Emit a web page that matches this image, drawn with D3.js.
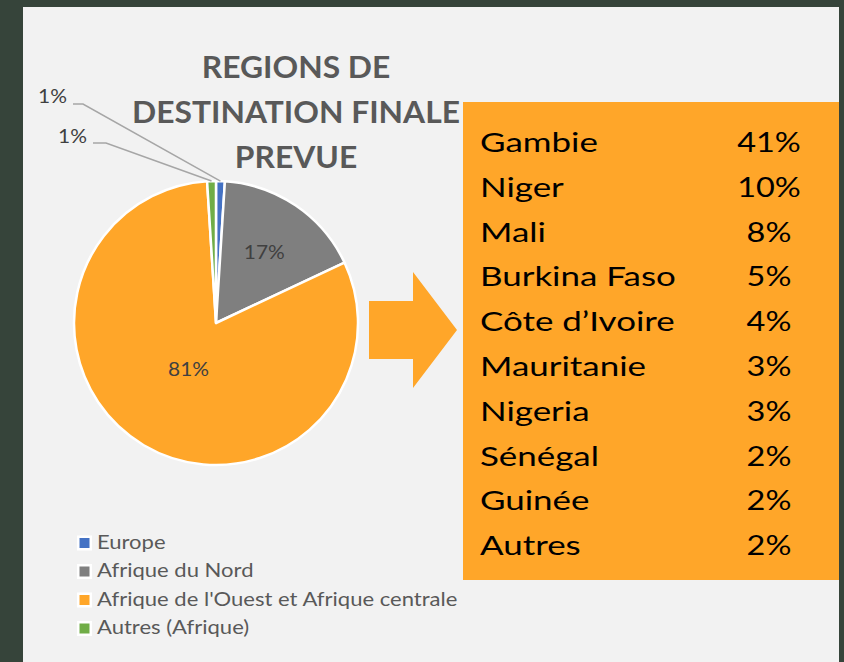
<!DOCTYPE html>
<html>
<head>
<meta charset="utf-8">
<script src="https://cdn.jsdelivr.net/npm/d3@7"></script>
<style>
  html, body { margin: 0; padding: 0; background: #36443a; }
  svg { display: block; }
</style>
</head>
<body>
<div class="chart"></div>
<script>
// data
var regions = ["Europe", "Afrique du Nord", "Afrique de l'Ouest et Afrique centrale", "Autres (Afrique)"];
var regionShares = [1, 17, 81, 1];
var regionColors = ["#4472c4", "#7f7f7f", "#ffa629", "#70ad47"];

var countries = ["Gambie", "Niger", "Mali", "Burkina Faso", "Côte d’Ivoire", "Mauritanie", "Nigeria", "Sénégal", "Guinée", "Autres"];
var countryShares = [41, 10, 8, 5, 4, 3, 3, 2, 2, 2];

var titleLines = ["REGIONS DE", "DESTINATION FINALE", "PREVUE"];

var W = 844, H = 662;
var font = "Lato, 'Open Sans', sans-serif";

// the reference text is a bit wider than Lato, so stretch it horizontally
function place(x, y, sx){
    return "translate(" + x + "," + y + ") scale(" + sx + ",1)";
}

var svg = d3.select(".chart").append("svg")
    .attr("width", W)
    .attr("height", H);

// background: dark frame + light panel
svg.append("rect").attr("width", W).attr("height", H).attr("fill", "#36443a");
svg.append("rect")
    .attr("x", 23).attr("y", 7)
    .attr("width", 816).attr("height", H - 7)
    .attr("fill", "#f2f2f2");

// title
svg.append("g").selectAll("text")
    .data(titleLines)
    .join("text")
    .attr("transform", function(d, i){ return place(296, 78 + i * 45, 1.06); })
    .attr("text-anchor", "middle")
    .attr("font-family", font)
    .attr("font-weight", "bold")
    .attr("font-size", 30)
    .attr("fill", "#595959")
    .text(function(d){ return d; });

// pie
var cx = 216, cy = 323, radius = 142;

var pie = d3.pie().sort(null).value(function(d){ return d; });
var arcs = pie(regionShares);
var arc = d3.arc().innerRadius(0).outerRadius(radius);

var gPie = svg.append("g").attr("transform", "translate(" + cx + "," + cy + ")");

gPie.selectAll("path")
    .data(arcs)
    .join("path")
    .attr("d", arc)
    .attr("fill", function(d, i){ return regionColors[i]; })
    .attr("stroke", "#ffffff")
    .attr("stroke-width", 2.5)
    .attr("stroke-linejoin", "round");

// labels inside the big slices
var innerLabelRadius = {1: 86, 2: 54};
gPie.selectAll("text.inner")
    .data(arcs.filter(function(d){ return d.index === 1 || d.index === 2; }))
    .join("text")
    .attr("class", "inner")
    .attr("transform", function(d){
        var a = (d.startAngle + d.endAngle) / 2, r = innerLabelRadius[d.index];
        return place(r * Math.sin(a), -r * Math.cos(a), 1.1);
    })
    .attr("dy", "0.35em")
    .attr("text-anchor", "middle")
    .attr("font-family", font)
    .attr("font-size", 19)
    .attr("fill", "#404040")
    .text(function(d){ return d.data + "%"; });

// small slices: labels outside with leader lines
var outside = {
    0: {tx: 67, ty: 103, elbow: [[73, 104], [83, 104]]},
    3: {tx: 87, ty: 143, elbow: [[93, 143], [106, 143]]}
};
arcs.filter(function(d){ return outside[d.index]; }).forEach(function(d){
    var o = outside[d.index];
    var a = (d.startAngle + d.endAngle) / 2;
    var end = [cx + radius * Math.sin(a), cy - radius * Math.cos(a)];
    svg.append("polyline")
        .attr("points", o.elbow.concat([end]).map(function(p){ return p.join(","); }).join(" "))
        .attr("fill", "none")
        .attr("stroke", "#a6a6a6")
        .attr("stroke-width", 1.5);
    svg.append("text")
        .attr("transform", place(o.tx, o.ty, 1.1))
        .attr("text-anchor", "end")
        .attr("font-family", font)
        .attr("font-size", 19)
        .attr("fill", "#404040")
        .text(d.data + "%");
});

// legend
var legend = svg.append("g").selectAll("g")
    .data(regions)
    .join("g")
    .attr("transform", function(d, i){ return "translate(77," + (535.5 + i * 28.5) + ")"; });

legend.append("rect")
    .attr("width", 15).attr("height", 15)
    .attr("fill", "#ffffff");
legend.append("rect")
    .attr("x", 2.5).attr("y", 2.5)
    .attr("width", 10).attr("height", 10)
    .attr("fill", function(d, i){ return regionColors[i]; });
legend.append("text")
    .attr("transform", place(20, 13, 1.16))
    .attr("font-family", font)
    .attr("font-size", 19)
    .attr("fill", "#595959")
    .text(function(d){ return d; });

// arrow
svg.append("polygon")
    .attr("points", "369,301 413,301 413,272 457,330 413,388 413,359 369,359")
    .attr("fill", "#ffa629");

// country box
svg.append("rect")
    .attr("x", 463).attr("y", 102)
    .attr("width", 376).attr("height", 478)
    .attr("fill", "#ffa629");

var rowY = function(i){ return 152 + i * 44.8; };

svg.append("g").selectAll("text")
    .data(countries)
    .join("text")
    .attr("transform", function(d, i){ return place(480, rowY(i), 1.27); })
    .attr("font-family", font)
    .attr("font-size", 27.5)
    .attr("fill", "#000000")
    .text(function(d){ return d; });

svg.append("g").selectAll("text")
    .data(countryShares)
    .join("text")
    .attr("transform", function(d, i){ return place(769, rowY(i), 1.18); })
    .attr("text-anchor", "middle")
    .attr("font-family", font)
    .attr("font-size", 27.5)
    .attr("fill", "#000000")
    .text(function(d){ return d + "%"; });
</script>
</body>
</html>
